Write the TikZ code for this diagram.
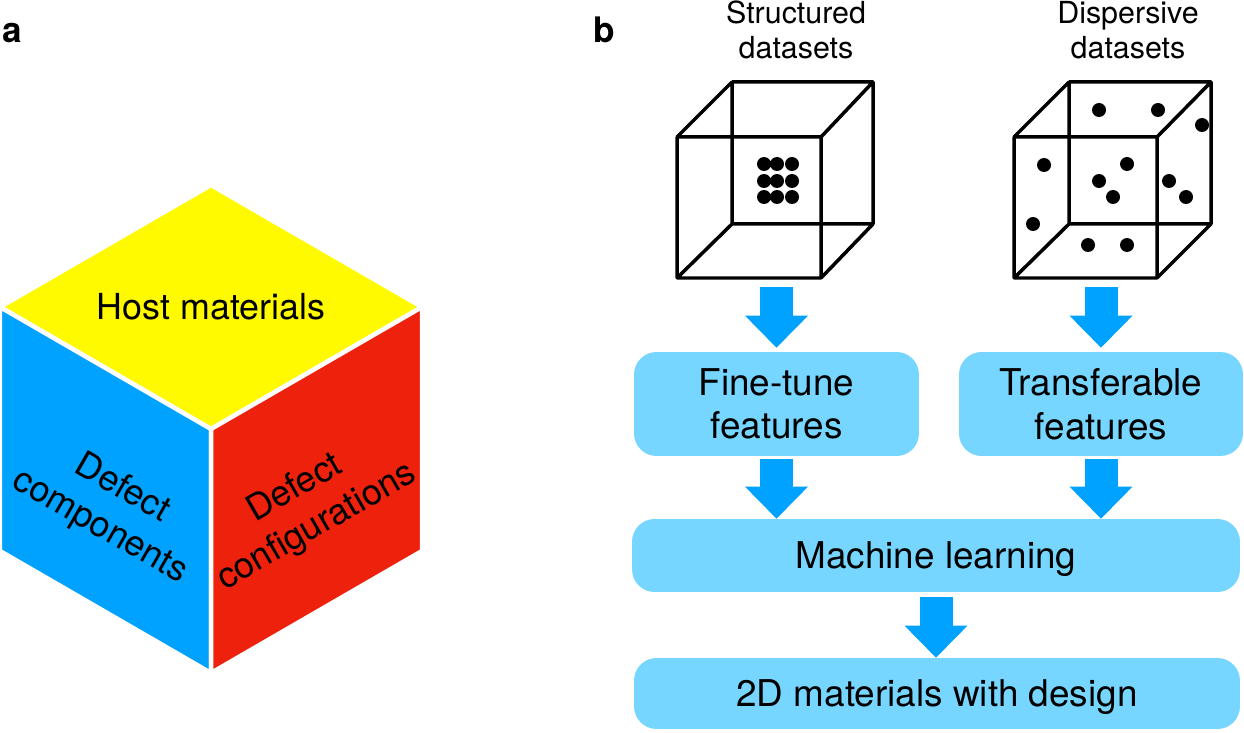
\documentclass[tikz,border=0pt]{standalone}
\usepackage{fontspec}
\setmainfont{TeX Gyre Heros}
\usetikzlibrary{arrows.meta,positioning}

\definecolor{hostyellow}{RGB}{255,250,0}
\definecolor{compblue}{RGB}{0,162,255}
\definecolor{confred}{RGB}{238,34,12}
\definecolor{boxblue}{RGB}{118,214,255}

\begin{document}
\begin{tikzpicture}[
  x=0.02cm, y=-0.02cm,
  font=\fontsize{20.4pt}{25pt}\selectfont,
  face/.style={draw=white, line width=0.09cm, line join=round},
  facetext/.style={align=center, inner sep=0pt},
  box/.style={fill=boxblue, rounded corners=0.45cm, align=center, inner sep=0pt, text depth=0pt,
    font=\fontsize{21pt}{24.5pt}\selectfont},
  wire/.style={line width=0.07cm, line join=round},
  blockarr/.style={draw=compblue, line width=0.66cm, -{Triangle[length=0.64cm, width=1.26cm, line width=0pt]}},
  paneltag/.style={font=\fontsize{20pt}{24pt}\selectfont\bfseries, anchor=base west, inner sep=0pt},
  setlabel/.style={font=\fontsize{17.3pt}{19.9pt}\selectfont, align=center, inner sep=0pt}
]
\useasboundingbox (0,0) rectangle (1244,733);
% Panel a: the design cube
\path[face, fill=hostyellow] (211,185) -- (422,307) -- (211,429) -- (0,307) -- cycle;
\path[face, fill=compblue] (0,307) -- (211,429) -- (211,673) -- (0,551) -- cycle;
\path[face, fill=confred] (211,429) -- (422,307) -- (422,551) -- (211,673) -- cycle;
\node (host) at (211,307) {Host materials};
\node[facetext, rotate=-30] (comp) at (111,508) {Defect\\components};
\node[facetext, rotate=30] (conf) at (306,508) {Defect\\configurations};
\node[paneltag] (taga) at (2,43) {a};
% Panel b: datasets
\node[paneltag] (tagb) at (593,43) {b};
\node[setlabel] (structlab) at (796,30) {Structured\\datasets};
\node[setlabel] (displab) at (1128,30) {Dispersive\\datasets};
\draw[wire] (677,137) rectangle (821,278) (732,82) rectangle (873,224)
  (677,137) -- (732,82) (821,137) -- (873,82) (821,278) -- (873,224) (677,278) -- (732,224);
\fill (764,164) circle[radius=0.14cm] (777,164) circle[radius=0.14cm] (792,164) circle[radius=0.14cm]
  (764,181) circle[radius=0.14cm] (777,181) circle[radius=0.14cm] (792,181) circle[radius=0.14cm]
  (764,197) circle[radius=0.14cm] (777,197) circle[radius=0.14cm] (792,197) circle[radius=0.14cm];
\draw[wire] (1014,137) rectangle (1157,278) (1069,82) rectangle (1211,224)
  (1014,137) -- (1069,82) (1157,137) -- (1211,82) (1157,278) -- (1211,224) (1014,278) -- (1069,224);
\fill (1099,110) circle[radius=0.14cm] (1158,110) circle[radius=0.14cm] (1202,125) circle[radius=0.14cm]
  (1044,165) circle[radius=0.14cm] (1127,164) circle[radius=0.14cm] (1099,181) circle[radius=0.14cm]
  (1113,197) circle[radius=0.14cm] (1169,181) circle[radius=0.14cm] (1186,197) circle[radius=0.14cm]
  (1033,224) circle[radius=0.14cm] (1088,245) circle[radius=0.14cm] (1127,245) circle[radius=0.14cm];
\coordinate (sdata) at (776.5,287);
\coordinate (ddata) at (1101,287);
% Flow boxes
\node[box, minimum width=5.7cm, minimum height=2.08cm] (ft) at (776.5,404) {Fine-tune\\features};
\node[box, minimum width=5.68cm, minimum height=2.08cm] (tf) at (1101,404) {Transferable\\features};
\node[box, minimum width=12.16cm, minimum height=1.46cm] (ml) at (936,555.5) {Machine learning};
\node[box, minimum width=12.12cm, minimum height=1.42cm] (dm) at (937,693.5) {2D materials with design};
\draw[blockarr, shorten >=0.08cm] (sdata) -- (ft.north);
\draw[blockarr, shorten >=0.08cm] (ddata) -- (tf.north);
\draw[blockarr, shorten <=0.06cm] (ft.south) -- (ft.south |- ml.north);
\draw[blockarr, shorten <=0.06cm] (tf.south) -- (tf.south |- ml.north);
\draw[blockarr, shorten <=0.1cm] (ml.south) -- (ml.south |- dm.north);
\end{tikzpicture}
\end{document}
